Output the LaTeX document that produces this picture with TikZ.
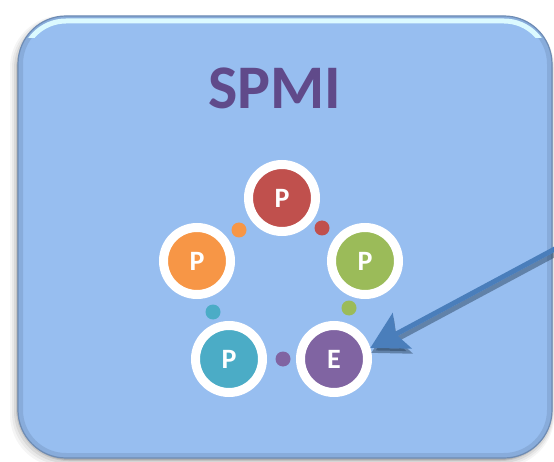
\documentclass[tikz,border=0pt]{standalone}
\usepackage{fontspec}
\setmainfont{Carlito}
\usetikzlibrary{arrows.meta}

\definecolor{panel}{RGB}{151,190,240}
\definecolor{panelrim}{RGB}{110,140,180}
\definecolor{gloss}{RGB}{220,250,255}
\definecolor{titleink}{RGB}{96,74,138}
\definecolor{cRed}{RGB}{192,80,77}
\definecolor{cOrange}{RGB}{247,150,70}
\definecolor{cGreen}{RGB}{155,187,89}
\definecolor{cTeal}{RGB}{75,172,198}
\definecolor{cPurple}{RGB}{128,100,162}
\definecolor{pointer}{RGB}{74,126,187}

\begin{document}
\begin{tikzpicture}[x=1pt,y=-1pt,
  stage/.style={circle,draw=white,line width=9pt,minimum size=67pt,inner sep=0pt,
    text=white,font=\bfseries\fontsize{28}{28}\selectfont},
  linkdot/.style={circle,minimum size=15pt,inner sep=0pt},
  pointerline/.style={line width=5pt,-{Stealth[length=36pt,width=40pt,inset=7pt]}}]

\useasboundingbox (0,0) rectangle (554,462);

% soft drop shadow of the panel
\foreach \s/\o in {8/0.04,6/0.05,4/0.07,2/0.09,1/0.12}{
  \fill[black,opacity=\o,rounded corners=52pt]
    (18-\s,18-\s*0.3) rectangle (552+\s*0.3,459+\s);
}

% panel
\path[fill=panel,rounded corners=48pt] (18,16) rectangle (552,458);
\begin{scope}
  \clip[rounded corners=48pt] (18,16) rectangle (552,458);
  % inner darkening along the rim
  \draw[panelrim,opacity=0.35,line width=10pt,rounded corners=48pt]
    (18,16) rectangle (552,458);
  % glossy band along the top
  \clip (0,0) rectangle (554,38);
  \draw[gloss,line width=5pt,rounded corners=44pt] (22,21) rectangle (548,454);
\end{scope}
\draw[panelrim,line width=1.2pt,rounded corners=48pt] (18,16) rectangle (552,458);

% title
\node[text=titleink,font=\bfseries\fontsize{62}{62}\selectfont] (title) at (275,88) {SPMI};

% cycle of stages
\node[stage,fill=cRed]    (s1) at (282,198) {P};
\node[stage,fill=cGreen]  (s2) at (365,261) {P};
\node[stage,fill=cPurple] (s3) at (334,359) {E};
\node[stage,fill=cTeal]   (s4) at (229,359) {P};
\node[stage,fill=cOrange] (s5) at (197,261) {P};

% small dots between the stages
\node[linkdot,fill=cRed]    (d1) at (322,228) {};
\node[linkdot,fill=cGreen]  (d2) at (349,308) {};
\node[linkdot,fill=cPurple] (d3) at (283,359) {};
\node[linkdot,fill=cTeal]   (d4) at (213,312) {};
\node[linkdot,fill=cOrange] (d5) at (239,230) {};

% pointer arrow with its shadow
\coordinate (tail) at (566,243);
\begin{scope}[transform canvas={shift={(1pt,-5pt)}}]
  \draw[pointerline,black!55!pointer,opacity=0.45] (tail) -- (s3.17);
\end{scope}
\draw[pointerline,pointer] (tail) -- (s3.17);
\end{tikzpicture}
\end{document}
